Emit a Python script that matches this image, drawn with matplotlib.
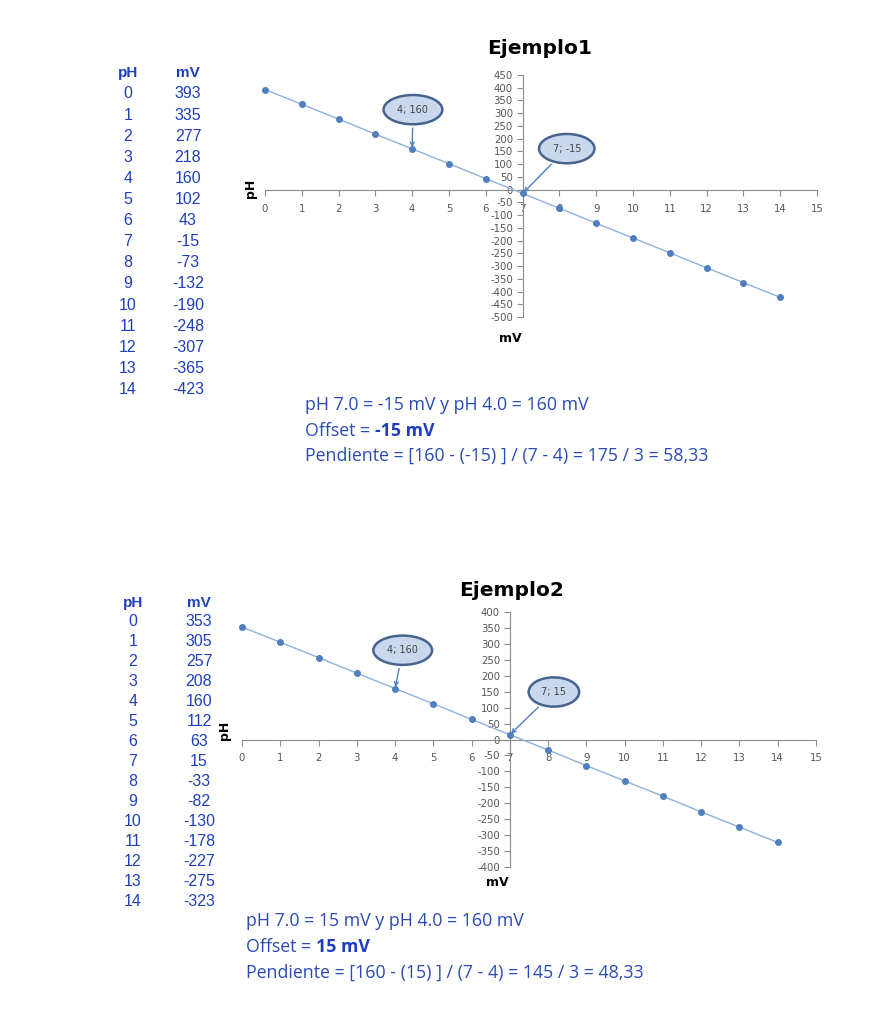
import matplotlib
matplotlib.use("Agg")
import matplotlib.pyplot as plt

plt.rcParams["axes.unicode_minus"] = False

W, H = 871, 1024

ph = list(range(15))
mv1 = [393, 335, 277, 218, 160, 102, 43, -15, -73, -132, -190, -248, -307, -365, -423]
mv2 = [353, 305, 257, 208, 160, 112, 63, 15, -33, -82, -130, -178, -227, -275, -323]

lines1 = ["pH 7.0 = -15 mV y pH 4.0 = 160 mV", "Offset = ", "Pendiente = [160 - (-15) ] / (7 - 4) = 175 / 3 = 58,33"]
bold1 = "-15 mV"
lines2 = ["pH 7.0 = 15 mV y pH 4.0 = 160 mV", "Offset = ", "Pendiente = [160 - (15) ] / (7 - 4) = 145 / 3 = 48,33"]
bold2 = "15 mV"

BLUE = "#1f3fbf"
TXT = "#2a4bb5"
LINE = "#8fb0d9"
DOT = "#4f7fbf"
AX = "#8c8c8c"


def fx(px):
    return px / W


def fy(py):
    return 1 - py / H


fig = plt.figure(figsize=(W / 100, H / 100), dpi=100)
fig.patch.set_facecolor("white")


def chart(box, title, title_xy, mv, ylim, yticks, ph_xy, mv_xy):
    l, t, r, b = box
    ax = fig.add_axes([fx(l), fy(b), fx(r) - fx(l), fy(t) - fy(b)])
    ax.plot(ph, mv, color=LINE, lw=1, marker="o", ms=4, mfc=DOT, mec=DOT, zorder=3, clip_on=False)
    ax.set_xlim(0, 15)
    ax.set_ylim(*ylim)
    ax.set_xticks(range(16))
    ax.set_yticks(yticks)
    ax.spines["left"].set_position(("data", 7))
    ax.spines["bottom"].set_position(("data", 0))
    ax.spines["top"].set_visible(False)
    ax.spines["right"].set_visible(False)
    for s in ("left", "bottom"):
        ax.spines[s].set_color(AX)
        ax.spines[s].set_linewidth(0.8)
    ax.tick_params(colors=AX, labelcolor="#555555", labelsize=7.3, length=4, width=0.8)
    ax.tick_params(axis="x", pad=6)
    ax.tick_params(axis="y", pad=3)
    ax.patch.set_alpha(0)
    fig.text(fx(title_xy[0]), fy(title_xy[1]), title, ha="center", va="center",
             fontsize=14.5, fontweight="bold", color="black")
    fig.text(fx(ph_xy[0]), fy(ph_xy[1]), "pH", rotation=90, ha="center", va="center",
             fontsize=9, fontweight="bold")
    fig.text(fx(mv_xy[0]), fy(mv_xy[1]), "mV", ha="center", va="center",
             fontsize=9, fontweight="bold")
    return ax


def callout(ax, txt, xy, xytext):
    ax.annotate(txt, xy=xy, xytext=xytext, fontsize=7, color="#444444",
                ha="center", va="center",
                bbox=dict(boxstyle="ellipse,pad=0.55", fc="#c9d8ec", ec="#47648f", lw=1.8),
                arrowprops=dict(arrowstyle="->", color="#4f7fbf", lw=1, shrinkB=1))


ax1 = chart((265, 75, 817, 317), "Ejemplo1", (540, 48), mv1, (-500, 450),
            range(-500, 451, 50), (250, 188), (510, 338))
callout(ax1, "4; 160", (4, mv1[4]), (4.02, 314))
callout(ax1, "7; -15", (7, mv1[7]), (8.2, 161))

ax2 = chart((242, 612, 816, 867), "Ejemplo2", (512, 590), mv2, (-400, 400),
            range(-400, 401, 50), (225, 730), (497, 882))
callout(ax2, "4; 160", (4, mv2[4]), (4.2, 280))
callout(ax2, "7; 15", (7, mv2[7]), (8.15, 149))


def table(x_ph, x_mv, y_head, y0, dy, mv):
    fig.text(fx(x_ph), fy(y_head), "pH", ha="center", va="center", color=BLUE,
             fontsize=11, fontweight="bold", family="Liberation Sans")
    fig.text(fx(x_mv), fy(y_head), "mV", ha="center", va="center", color=BLUE,
             fontsize=11, fontweight="bold", family="Liberation Sans")
    for i, (p, m) in enumerate(zip(ph, mv)):
        y = y0 + i * dy
        fig.text(fx(x_ph), fy(y), str(p), ha="center", va="center", color=BLUE,
                 fontsize=11.5, family="Liberation Sans")
        fig.text(fx(x_mv), fy(y), str(m), ha="center", va="center", color=BLUE,
                 fontsize=11.5, family="Liberation Sans")


table(128, 188, 73, 94, 21.1, mv1)
table(133, 199, 603, 622, 19.93, mv2)


def notes(x, y0, dy, lines, bold):
    fs = 12.8
    fam = "Open Sans"
    fig.text(fx(x), fy(y0), lines[0], ha="left", va="center", color=TXT, fontsize=fs, family=fam)
    t = fig.text(fx(x), fy(y0 + dy), lines[1], ha="left", va="center", color=TXT, fontsize=fs, family=fam)
    fig.canvas.draw()
    bb = t.get_window_extent()
    fig.text(bb.x1 / W, fy(y0 + dy), bold, ha="left", va="center", color=BLUE, fontsize=fs,
             family=fam, fontweight="bold")
    fig.text(fx(x), fy(y0 + 2 * dy), lines[2], ha="left", va="center", color=TXT, fontsize=fs, family=fam)


notes(305, 405, 25.5, lines1, bold1)
notes(246, 921, 26, lines2, bold2)

fig.savefig("out.png", dpi=100)
